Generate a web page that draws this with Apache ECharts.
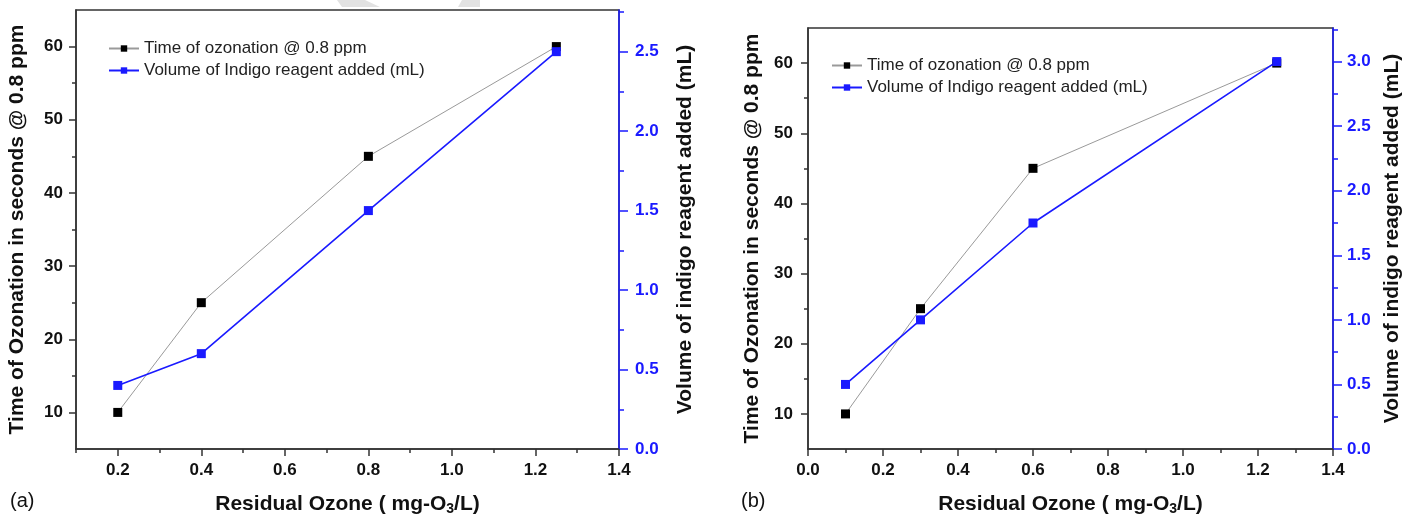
<!DOCTYPE html>
<html>
<head>
<meta charset="utf-8">
<script src="https://cdn.jsdelivr.net/npm/echarts@6/dist/echarts.min.js"></script>
<style>
  html, body { margin: 0; padding: 0; background: #fff; }
  #chart { width: 1419px; height: 521px; }
</style>
</head>
<body>
<div id="chart"></div>
<script>
// panel (a)
const ozoneA = [0.2, 0.4, 0.8, 1.25];
const timeA = [10, 25, 45, 60];
const volumeA = [0.4, 0.6, 1.5, 2.5];
// panel (b)
const ozoneB = [0.1, 0.3, 0.6, 1.25];
const timeB = [10, 25, 45, 60];
const volumeB = [0.5, 1.0, 1.75, 3.0];

// tick values
const xMajorA = [0.2, 0.4, 0.6, 0.8, 1.0, 1.2, 1.4];
const xMinorA = [0.1, 0.3, 0.5, 0.7, 0.9, 1.1, 1.3];
const xMajorB = [0.0, 0.2, 0.4, 0.6, 0.8, 1.0, 1.2, 1.4];
const xMinorB = [0.1, 0.3, 0.5, 0.7, 0.9, 1.1, 1.3];
const timeMajor = [10, 20, 30, 40, 50, 60];
const timeMinor = [15, 25, 35, 45, 55];
const volMajorA = [0, 0.5, 1.0, 1.5, 2.0, 2.5];
const volMinorA = [0.25, 0.75, 1.25, 1.75, 2.25, 2.75];
const volMajorB = [0, 0.5, 1.0, 1.5, 2.0, 2.5, 3.0];
const volMinorB = [0.25, 0.75, 1.25, 1.75, 2.25, 2.75, 3.25];

const legendNames = ['Time of ozonation @ 0.8 ppm', 'Volume of Indigo reagent added (mL)'];

const FONT = 'Liberation Sans, Arial, sans-serif';
const AXIS_COLOR = '#333';
const BLUE = '#1a1aff';
const TITLE_SIZE = 21;

const fmt = v => v.toFixed(1);

function xAxes(grid, min, max, major, minor) {
  return [
    {
      type: 'value', gridIndex: grid, position: 'bottom', min: min, max: max,
      name: 'Residual Ozone ( mg-O{sub|3}/L)', nameLocation: 'middle', nameGap: 43,
      nameTextStyle: {
        fontFamily: FONT, fontSize: TITLE_SIZE, fontWeight: 'bold', color: '#111',
        rich: { sub: { fontFamily: FONT, fontSize: 14, fontWeight: 'bold', color: '#111', verticalAlign: 'bottom', padding: [10, 0, 0, 0] } }
      },
      axisLine: { show: true, lineStyle: { color: AXIS_COLOR, width: 1.5 } },
      axisTick: { show: true, length: 7, customValues: major, lineStyle: { color: AXIS_COLOR, width: 1.5 } },
      axisLabel: { customValues: major, formatter: fmt, margin: 13, fontFamily: FONT, fontSize: 17, fontWeight: 'bold', color: '#111' },
      splitLine: { show: false }
    },
    {
      type: 'value', gridIndex: grid, position: 'bottom', min: min, max: max,
      axisLine: { show: false },
      axisTick: { show: true, length: 4, customValues: minor, lineStyle: { color: AXIS_COLOR, width: 1.5 } },
      axisLabel: { show: false },
      splitLine: { show: false }
    }
  ];
}

function yAxes(grid, volMax, volMajor, volMinor, leftGap, rightGap, labelMarginL, labelMarginR) {
  return [
    {
      type: 'value', gridIndex: grid, position: 'left', min: 5, max: 65,
      name: 'Time of Ozonation in seconds @ 0.8 ppm', nameLocation: 'middle', nameGap: leftGap,
      nameTextStyle: { fontFamily: FONT, fontSize: TITLE_SIZE, fontWeight: 'bold', color: '#111' },
      axisLine: { show: true, lineStyle: { color: AXIS_COLOR, width: 1.5 } },
      axisTick: { show: true, length: 7, customValues: timeMajor, lineStyle: { color: AXIS_COLOR, width: 1.5 } },
      axisLabel: { customValues: timeMajor, margin: labelMarginL, fontFamily: FONT, fontSize: 17, fontWeight: 'bold', color: '#111' },
      splitLine: { show: false }
    },
    {
      type: 'value', gridIndex: grid, position: 'left', min: 5, max: 65,
      axisLine: { show: false },
      axisTick: { show: true, length: 4, customValues: timeMinor, lineStyle: { color: AXIS_COLOR, width: 1.5 } },
      axisLabel: { show: false },
      splitLine: { show: false }
    },
    {
      type: 'value', gridIndex: grid, position: 'right', min: 0, max: volMax,
      name: 'Volume of indigo reagent added (mL)', nameLocation: 'middle', nameGap: rightGap,
      nameTextStyle: { fontFamily: FONT, fontSize: TITLE_SIZE, fontWeight: 'bold', color: '#111' },
      axisLine: { show: true, lineStyle: { color: BLUE, width: 1.5 } },
      axisTick: { show: true, length: 9, customValues: volMajor, lineStyle: { color: BLUE, width: 1.5 } },
      axisLabel: { customValues: volMajor, formatter: fmt, margin: labelMarginR, fontFamily: FONT, fontSize: 17, fontWeight: 'bold', color: BLUE },
      splitLine: { show: false }
    },
    {
      type: 'value', gridIndex: grid, position: 'right', min: 0, max: volMax,
      axisLine: { show: false },
      axisTick: { show: true, length: 5, customValues: volMinor, lineStyle: { color: BLUE, width: 1.5 } },
      axisLabel: { show: false },
      splitLine: { show: false }
    }
  ];
}

function pairs(xs, ys) {
  return xs.map((x, i) => [x, ys[i]]);
}

function seriesFor(xIdx, yLeft, yRight, xs, times, vols) {
  return [
    {
      name: legendNames[0], type: 'line', xAxisIndex: xIdx, yAxisIndex: yLeft,
      data: pairs(xs, times), symbol: 'rect', symbolSize: 9,
      lineStyle: { color: '#9a9a9a', width: 1 },
      itemStyle: { color: '#000' }
    },
    {
      name: legendNames[1], type: 'line', xAxisIndex: xIdx, yAxisIndex: yRight,
      data: pairs(xs, vols), symbol: 'rect', symbolSize: 9,
      lineStyle: { color: BLUE, width: 1.6 },
      itemStyle: { color: BLUE }
    }
  ];
}

function legendAt(left, top) {
  return {
    left: left, top: top, orient: 'vertical', itemWidth: 30, itemHeight: 8, itemGap: 5,
    data: legendNames, selectedMode: false,
    textStyle: { fontFamily: FONT, fontSize: 17, color: '#222', lineHeight: 17 }
  };
}

const chart = echarts.init(document.getElementById('chart'));

chart.setOption({
  animation: false,
  backgroundColor: '#fff',
  grid: [
    { left: 76, top: 10, width: 543, height: 440, show: true, borderColor: AXIS_COLOR, borderWidth: 1.5, backgroundColor: 'transparent' },
    { left: 808, top: 28, width: 525, height: 421, show: true, borderColor: AXIS_COLOR, borderWidth: 1.5, backgroundColor: 'transparent' }
  ],
  legend: [legendAt(103, 35), legendAt(826, 52)],
  xAxis: [].concat(
    xAxes(0, 0.1, 1.4, xMajorA, xMinorA),
    xAxes(1, 0, 1.4, xMajorB, xMinorB)
  ),
  yAxis: [].concat(
    yAxes(0, 2.762, volMajorA, volMinorA, 48, 56, 13, 16),
    yAxes(1, 3.26, volMajorB, volMinorB, 45, 49, 15, 14)
  ),
  series: [].concat(
    seriesFor(0, 0, 2, ozoneA, timeA, volumeA),
    seriesFor(2, 4, 6, ozoneB, timeB, volumeB)
  ),
  graphic: [
    { type: 'text', left: 10, top: 491, style: { text: '(a)', fontFamily: FONT, fontSize: 20, fill: '#111' } },
    { type: 'text', left: 741, top: 491, style: { text: '(b)', fontFamily: FONT, fontSize: 20, fill: '#111' } },
    { type: 'polygon', z: -1, shape: { points: [[337, 0], [365, 0], [380, 7], [342, 7]] }, style: { fill: '#e2e2e2' } },
    { type: 'polygon', z: -1, shape: { points: [[462, 0], [480, 0], [480, 7], [458, 7]] }, style: { fill: '#e2e2e2' } }
  ]
});
</script>
</body>
</html>
